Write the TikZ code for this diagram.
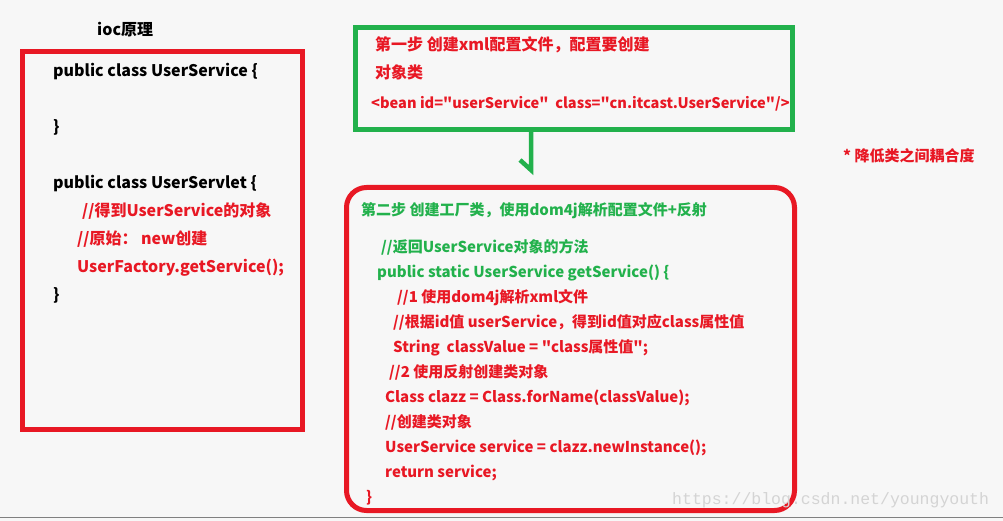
\documentclass[tikz,border=0pt]{standalone}
\usepackage{fontspec}
\newfontfamily\yh{Noto Sans CJK SC}
\setmonofont{Liberation Mono}
\definecolor{bg}{RGB}{247,247,247}
\definecolor{rd}{RGB}{232,24,36}
\definecolor{gn}{RGB}{34,177,76}
\definecolor{wm}{RGB}{212,212,212}
\begin{document}
\begin{tikzpicture}[x=1pt,y=-1pt,
  txt/.style={anchor=west,inner sep=0pt,font=\yh\bfseries\fontsize{16}{16}\selectfont,text height=0.8em,text depth=0.2em,yshift=-3.5pt},
  stxt/.style={txt,font=\yh\bfseries\fontsize{15}{15}\selectfont},
  redbox/.style={draw=rd,line width=5pt,inner sep=0pt},
  greenbox/.style={draw=gn,line width=4.5pt,inner sep=0pt}]
\fill[bg] (0,0) rectangle (1003,521);
\useasboundingbox (0,0) rectangle (1003,521);
\draw[gray,line width=1pt] (0,517) -- (1003,517);
% boxes
\node[redbox,minimum width=280pt,minimum height=378pt] (left) at (162.5,240.5) {};
\node[greenbox,minimum width=437pt,minimum height=102pt] (xml) at (574,78.5) {};
\node[redbox,rounded corners=20pt,minimum width=448pt,minimum height=323pt] (factory) at (570.5,349) {};
% arrow
\coordinate (tip) at (531,170);
\draw[gn,line width=4.5pt] (xml.south -| tip) -- (tip) -- ++(-11,-10);
% title
\node[txt] (title) at (97,29) {ioc原理};
% left box text
\node[txt] (l1) at (53,70) {public class UserService \{};
\node[txt] (l2) at (53,126) {\}};
\node[txt] (l3) at (53,182) {public class UserServlet \{};
\node[txt,text=rd] (l4) at (82,210) {//得到UserService的对象};
\node[txt,text=rd] (l5) at (77,238) {//原始： new创建};
\node[txt,text=rd] (l6) at (77,266) {UserFactory.getService();};
\node[txt] (l7) at (53,294) {\}};
% green box text
\node[txt,text=rd] (g1) at (375,44) {第一步 创建xml配置文件，配置要创建};
\node[txt,text=rd] (g2) at (375,72) {对象类};
\node[stxt,text=rd,font=\yh\bfseries\fontsize{14.6}{15}\selectfont] (g3) at (371,102) {<bean id="userService"\ \ class="cn.itcast.UserService"/>};
% note
\node[stxt,text=rd] (note) at (843,155) {* 降低类之间耦合度};
% factory text
\node[stxt,text=gn] (f0) at (361,209) {第二步 创建工厂类，使用dom4j解析配置文件+反射};
\node[stxt,text=gn] (f1) at (381,246) {//返回UserService对象的方法};
\node[stxt,text=gn] (f2) at (377,271) {public static UserService getService() \{};
\node[stxt,text=rd] (f3) at (397,296) {//1 使用dom4j解析xml文件};
\node[stxt,text=rd] (f4) at (393,321) {//根据id值 userService，得到id值对应class属性值};
\node[stxt,text=rd] (f5) at (393,346) {String\ \ classValue = "class属性值";};
\node[stxt,text=rd] (f6) at (389,371) {//2 使用反射创建类对象};
\node[stxt,text=rd] (f7) at (385,396) {Class clazz = Class.forName(classValue);};
\node[stxt,text=rd] (f8) at (385,421) {//创建类对象};
\node[stxt,text=rd] (f9) at (385,446) {UserService service = clazz.newInstance();};
\node[stxt,text=rd] (f10) at (385,471) {return service;};
\node[stxt,text=rd] (f11) at (366,496) {\}};
% watermark
\node[anchor=west,inner sep=0pt,text=wm,font=\ttfamily\fontsize{16.5}{16.5}\selectfont] (wmk) at (672,500) {https://blog.csdn.net/youngyouth};
\end{tikzpicture}
\end{document}
